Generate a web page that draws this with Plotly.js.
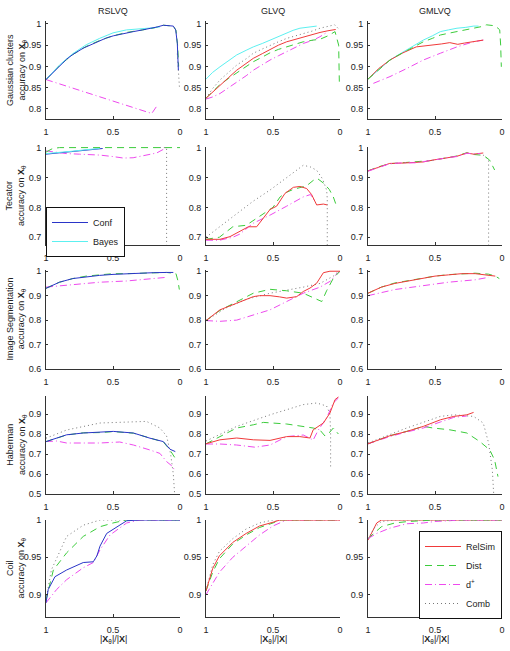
<!DOCTYPE html>
<html><head><meta charset="utf-8">
<script src="https://cdn.plot.ly/plotly-3.0.1.min.js"></script>
<style>body{margin:0;background:#fff}#c{width:510px;height:651px}</style>
</head><body><div id="c"></div>
<script>
// ---------- tick labels ----------
const xTickVals = [1, 0.5, 0];
const xTickText = ['1', '0.5', '0'];
const rowNames = ['Gaussian clusters', 'Tecator', 'Image Segmentation', 'Haberman', 'Coil'];
const colNames = ['RSLVQ', 'GLVQ', 'GMLVQ'];
const yTicks1 = [0.8, 0.85, 0.9, 0.95, 1];
const yTicks2 = [0.7, 0.8, 0.9, 1];
const yTicks3 = [0.6, 0.7, 0.8, 0.9, 1];
const yTicks4 = [0.5, 0.6, 0.7, 0.8, 0.9];
const yTicks5 = [0.9, 0.95, 1];

// ---------- Row 1: Gaussian clusters ----------
const gR_conf_x = [1,0.95,0.9,0.846,0.8,0.722,0.65,0.597,0.55,0.498,0.42,0.348,0.28,0.224,0.17,0.124,0.08,0.05,0.032,0.02,0.012];
const gR_conf_y = [0.869,0.885,0.902,0.917,0.928,0.943,0.953,0.961,0.967,0.972,0.978,0.982,0.986,0.989,0.993,0.997,0.996,0.995,0.986,0.954,0.891];
const gR_bayes_x = [1,0.9,0.8,0.7,0.6,0.5,0.4,0.3,0.2,0.15];
const gR_bayes_y = [0.869,0.903,0.930,0.951,0.966,0.979,0.986,0.988,0.991,0.993];
const gR_dist_x = [1,0.9,0.8,0.7,0.6,0.5,0.4,0.3,0.2,0.124,0.05,0.03,0.018,0.01];
const gR_dist_y = [0.869,0.902,0.928,0.947,0.961,0.972,0.980,0.985,0.990,0.997,0.995,0.985,0.95,0.90];
const gR_dplus_x = [1,0.211,0.174];
const gR_dplus_y = [0.869,0.789,0.806];
const gR_comb_x = [0.02,0.01,0.004];
const gR_comb_y = [0.93,0.88,0.85];

const gG_bayes_x = [1,0.95,0.896,0.83,0.771,0.7,0.647,0.58,0.522,0.46,0.398,0.35,0.299,0.24,0.174];
const gG_bayes_y = [0.870,0.886,0.899,0.914,0.927,0.938,0.946,0.954,0.962,0.970,0.978,0.985,0.990,0.993,0.995];
const gG_rel_x = [1,0.95,0.896,0.83,0.771,0.7,0.647,0.58,0.522,0.46,0.398,0.33,0.274,0.2,0.149,0.09,0.032];
const gG_rel_y = [0.825,0.840,0.856,0.874,0.891,0.906,0.919,0.930,0.940,0.950,0.958,0.964,0.970,0.975,0.980,0.984,0.987];
const gG_dist_x = [1,0.95,0.9,0.83,0.75,0.7,0.647,0.58,0.522,0.46,0.398,0.33,0.274,0.2,0.149,0.09,0.037,0.01,0.005];
const gG_dist_y = [0.825,0.840,0.856,0.872,0.890,0.900,0.911,0.922,0.932,0.940,0.946,0.952,0.958,0.962,0.964,0.972,0.982,0.95,0.864];
const gG_dplus_x = [1,0.95,0.896,0.83,0.771,0.7,0.647,0.58,0.522,0.46,0.398,0.33,0.274,0.2,0.149,0.09];
const gG_dplus_y = [0.823,0.828,0.836,0.850,0.864,0.878,0.891,0.904,0.915,0.925,0.935,0.945,0.954,0.962,0.970,0.982];
const gG_comb_x = [1,0.95,0.896,0.83,0.771,0.7,0.647,0.58,0.522,0.46,0.398,0.33,0.274,0.2,0.149,0.09,0.04,0.015];
const gG_comb_y = [0.825,0.848,0.868,0.887,0.903,0.918,0.931,0.941,0.950,0.958,0.966,0.972,0.978,0.984,0.990,0.995,0.998,0.990];

const gM_bayes_x = [1,0.92,0.836,0.77,0.711,0.65,0.587,0.52,0.46,0.4,0.336,0.27,0.212,0.175];
const gM_bayes_y = [0.870,0.893,0.915,0.928,0.939,0.951,0.962,0.972,0.982,0.986,0.990,0.992,0.995,0.995];
const gM_dist_x = [1,0.92,0.836,0.77,0.711,0.65,0.587,0.52,0.46,0.4,0.336,0.27,0.212,0.15,0.116,0.06,0.03,0.017,0.01,0.005];
const gM_dist_y = [0.870,0.893,0.915,0.927,0.937,0.948,0.958,0.966,0.974,0.978,0.982,0.986,0.990,0.994,0.998,0.996,0.990,0.986,0.950,0.899];
const gM_rel_x = [1,0.92,0.836,0.739,0.64,0.58,0.515,0.45,0.39,0.33,0.28,0.212,0.14];
const gM_rel_y = [0.870,0.895,0.915,0.932,0.946,0.948,0.950,0.953,0.956,0.952,0.955,0.958,0.962];
const gM_dplus_x = [0.96,0.836,0.711,0.587,0.46,0.336,0.212,0.14];
const gM_dplus_y = [0.860,0.876,0.895,0.915,0.931,0.946,0.958,0.962];

// ---------- Row 2: Tecator ----------
const tR_conf_x = [1,0.95,0.85,0.75,0.65,0.577];
const tR_conf_y = [0.978,0.980,0.985,0.990,0.994,0.997];
const tR_bayes_x = [1,0.9,0.8,0.7,0.6];
const tR_bayes_y = [0.980,0.983,0.988,0.993,0.997];
const tR_dist_x = [1,0.95,0.9,0.8,0.6,0.4,0.2,0.1,0];
const tR_dist_y = [0.985,0.997,1,1,1,1,1,1,1];
const tR_dplus_x = [1,0.85,0.75,0.6,0.5,0.423,0.35,0.299,0.22,0.174,0.1];
const tR_dplus_y = [0.989,0.980,0.978,0.975,0.970,0.965,0.966,0.971,0.978,0.982,1.0];
const tR_comb_x = [0.15,0.1,0.1];
const tR_comb_y = [1,1,0.6];

const tG_rel_x = [1,0.896,0.821,0.746,0.684,0.622,0.572,0.522,0.473,0.44,0.41,0.348,0.299,0.249,0.212,0.174,0.124,0.095];
const tG_rel_y = [0.693,0.693,0.702,0.719,0.735,0.735,0.763,0.793,0.804,0.825,0.847,0.867,0.870,0.863,0.843,0.808,0.811,0.808];
const tG_dist_x = [1,0.9,0.8,0.7,0.6,0.5,0.447,0.4,0.35,0.3,0.25,0.2,0.17,0.12,0.08,0.05,0.02];
const tG_dist_y = [0.693,0.700,0.735,0.740,0.770,0.800,0.835,0.850,0.860,0.865,0.872,0.890,0.897,0.880,0.860,0.835,0.797];
const tG_dplus_x = [1,0.9,0.8,0.75,0.647,0.522,0.398,0.274,0.22,0.18];
const tG_dplus_y = [0.690,0.690,0.700,0.710,0.747,0.774,0.804,0.835,0.843,0.815];
const tG_comb_x = [1,0.9,0.771,0.65,0.522,0.45,0.398,0.33,0.274,0.22,0.174,0.13,0.1,0.095,0.095];
const tG_comb_y = [0.700,0.735,0.780,0.820,0.858,0.882,0.902,0.925,0.941,0.935,0.924,0.895,0.858,0.830,0.600];

const tM_rel_x = [1,0.92,0.838,0.75,0.65,0.587,0.52,0.46,0.4,0.336,0.262,0.212,0.14];
const tM_rel_y = [0.922,0.935,0.947,0.948,0.950,0.952,0.958,0.963,0.966,0.971,0.982,0.978,0.982];
const tM_dist_x = [1,0.92,0.838,0.75,0.65,0.587,0.52,0.46,0.4,0.336,0.262,0.212,0.16,0.12,0.092,0.075,0.055];
const tM_dist_y = [0.922,0.936,0.946,0.949,0.951,0.953,0.957,0.962,0.967,0.972,0.983,0.977,0.975,0.968,0.958,0.940,0.925];
const tM_dplus_x = [1,0.92,0.838,0.75,0.65,0.587,0.52,0.46,0.4,0.336,0.262,0.212,0.16];
const tM_dplus_y = [0.921,0.934,0.946,0.949,0.949,0.953,0.957,0.962,0.967,0.970,0.981,0.979,0.980];
const tM_comb_x = [0.14,0.1,0.1];
const tM_comb_y = [0.975,0.960,0.600];

// ---------- Row 3: Image Segmentation ----------
const iR_conf_x = [1,0.9,0.8,0.7,0.6,0.5,0.4,0.3,0.2,0.1,0.05];
const iR_conf_y = [0.930,0.955,0.970,0.978,0.983,0.987,0.990,0.992,0.994,0.995,0.995];
const iR_dist_x = [1,0.9,0.8,0.7,0.6,0.5,0.4,0.3,0.2,0.1,0.03,0.015,0.005];
const iR_dist_y = [0.930,0.955,0.970,0.980,0.985,0.990,0.990,0.992,0.995,0.995,0.990,0.960,0.925];
const iR_dplus_x = [1,0.8,0.6,0.4,0.2,0.1];
const iR_dplus_y = [0.935,0.945,0.955,0.960,0.970,0.975];

const iG_rel_x = [1,0.896,0.771,0.647,0.6,0.522,0.45,0.398,0.323,0.274,0.224,0.174,0.124,0.075,0];
const iG_rel_y = [0.798,0.842,0.869,0.896,0.900,0.900,0.895,0.890,0.896,0.917,0.931,0.951,0.994,1.0,1.0];
const iG_dist_x = [1,0.896,0.771,0.647,0.522,0.398,0.274,0.2,0.136,0.1,0.05,0];
const iG_dist_y = [0.798,0.840,0.875,0.910,0.926,0.920,0.910,0.890,0.876,0.920,0.971,1.0];
const iG_dplus_x = [1,0.896,0.771,0.647,0.522,0.398,0.274,0.149,0.07,0.02,0];
const iG_dplus_y = [0.798,0.795,0.800,0.822,0.842,0.876,0.910,0.935,0.960,0.992,1.0];
const iG_comb_x = [1,0.85,0.7,0.522,0.274,0.149,0.05,0.01];
const iG_comb_y = [0.798,0.850,0.885,0.910,0.935,0.950,0.980,1.0];

const iM_rel_x = [1,0.9,0.8,0.7,0.6,0.5,0.4,0.3,0.2,0.1,0.05];
const iM_rel_y = [0.910,0.935,0.950,0.960,0.970,0.980,0.985,0.990,0.990,0.985,0.980];
const iM_dist_x = [1,0.9,0.8,0.7,0.6,0.5,0.4,0.3,0.2,0.1,0.05,0.02];
const iM_dist_y = [0.910,0.935,0.952,0.962,0.972,0.980,0.986,0.990,0.992,0.988,0.980,0.970];
const iM_dplus_x = [1,0.8,0.6,0.4,0.2,0.1];
const iM_dplus_y = [0.900,0.925,0.940,0.955,0.965,0.975];

// ---------- Row 4: Haberman ----------
const hR_conf_x = [1,0.846,0.722,0.597,0.498,0.348,0.224,0.124,0.075,0.035];
const hR_conf_y = [0.762,0.796,0.805,0.808,0.813,0.805,0.779,0.762,0.724,0.712];
const hR_dist_x = [1,0.846,0.722,0.597,0.498,0.348,0.224,0.124,0.075,0.035];
const hR_dist_y = [0.762,0.795,0.806,0.807,0.812,0.804,0.780,0.760,0.720,0.678];
const hR_dplus_x = [1,0.92,0.846,0.6,0.45,0.348,0.224,0.15,0.1,0.06,0.04];
const hR_dplus_y = [0.762,0.765,0.755,0.755,0.760,0.745,0.720,0.703,0.662,0.640,0.620];
const hR_comb_x = [1,0.846,0.597,0.348,0.25,0.15,0.1,0.07,0.05,0.04];
const hR_comb_y = [0.779,0.820,0.855,0.863,0.863,0.830,0.790,0.700,0.600,0.500];

const hG_rel_x = [1,0.896,0.771,0.647,0.522,0.398,0.3,0.224,0.2,0.124,0.075,0.037,0.012];
const hG_rel_y = [0.751,0.771,0.780,0.771,0.768,0.787,0.787,0.780,0.821,0.855,0.905,0.972,0.985];
const hG_dist_x = [1,0.771,0.647,0.572,0.398,0.2,0.15,0.112,0.075,0.05,0.012];
const hG_dist_y = [0.751,0.830,0.846,0.858,0.850,0.830,0.820,0.790,0.810,0.830,0.800];
const hG_dplus_x = [1,0.896,0.771,0.634,0.522,0.398,0.274,0.2,0.162,0.1,0.05,0.012];
const hG_dplus_y = [0.750,0.750,0.745,0.734,0.745,0.787,0.795,0.770,0.820,0.880,0.955,0.980];
const hG_comb_x = [1,0.771,0.522,0.274,0.174,0.1,0.075,0.07,0.07];
const hG_comb_y = [0.765,0.838,0.896,0.947,0.955,0.940,0.900,0.800,0.637];

const hM_rel_x = [1,0.838,0.711,0.587,0.46,0.36,0.262,0.212];
const hM_rel_y = [0.751,0.791,0.813,0.838,0.871,0.888,0.896,0.908];
const hM_dplus_x = [1,0.838,0.711,0.587,0.46,0.36,0.262];
const hM_dplus_y = [0.751,0.787,0.810,0.830,0.860,0.883,0.890];
const hM_dist_x = [1,0.838,0.711,0.587,0.515,0.39,0.262,0.165,0.091,0.055,0.03];
const hM_dist_y = [0.751,0.791,0.813,0.838,0.830,0.821,0.805,0.762,0.720,0.670,0.587];
const hM_comb_x = [1,0.711,0.46,0.36,0.212,0.14,0.1,0.072,0.062];
const hM_comb_y = [0.755,0.830,0.888,0.896,0.888,0.855,0.755,0.620,0.500];

// ---------- Row 5: Coil ----------
const cR_conf_x = [1,0.983,0.933,0.846,0.722,0.647,0.62,0.597,0.547,0.473,0.398,0.3,0];
const cR_conf_y = [0.889,0.907,0.924,0.933,0.943,0.944,0.952,0.965,0.982,0.991,0.999,1,1];
const cR_dplus_x = [1,0.92,0.846,0.722,0.647,0.597,0.522,0.398,0.3,0];
const cR_dplus_y = [0.889,0.907,0.920,0.936,0.943,0.960,0.980,0.996,1,1];
const cR_dist_x = [1,0.945,0.846,0.722,0.597,0.5,0.4,0];
const cR_dist_y = [0.893,0.933,0.956,0.978,0.991,0.996,1,1];
const cR_comb_x = [1,0.96,0.846,0.722,0.597,0.5,0];
const cR_comb_y = [0.893,0.933,0.978,0.993,1,1,1];

const cG_rel_x = [1,0.95,0.9,0.8,0.7,0.6,0.5,0.45,0];
const cG_rel_y = [0.905,0.935,0.952,0.970,0.982,0.992,0.997,1,1];
const cG_dist_x = [1,0.95,0.9,0.8,0.7,0.6,0.5,0.45,0];
const cG_dist_y = [0.905,0.930,0.948,0.968,0.980,0.990,0.996,1,1];
const cG_dplus_x = [1,0.9,0.8,0.7,0.6,0.5,0.4,0];
const cG_dplus_y = [0.900,0.930,0.950,0.965,0.980,0.992,1,1];
const cG_comb_x = [1,0.95,0.9,0.8,0.7,0.6,0.5,0];
const cG_comb_y = [0.905,0.940,0.958,0.975,0.988,0.996,1,1];

const cM_rel_x = [1,0.96,0.935,0.9,0.8,0.5,0];
const cM_rel_y = [0.973,0.987,0.996,1,1,1,1];
const cM_dist_x = [1,0.9,0.8,0.7,0.5,0.3,0];
const cM_dist_y = [0.975,0.991,0.996,0.998,1,1,1];
const cM_dplus_x = [1,0.935,0.838,0.711,0.587,0.5,0.3,0];
const cM_dplus_y = [0.975,0.982,0.989,0.995,0.996,0.998,1,1];
const cM_comb_x = [1,0.95,0.9,0.8,0.5,0];
const cM_comb_y = [0.975,0.99,0.998,1,1,1];

// ---------- styles / layout geometry ----------
const W = 510, H = 651;
const STY = {
  conf:  {color:'#2a35c8', dash:'solid'},
  bayes: {color:'#5cf0f0', dash:'solid'},
  rel:   {color:'#f03a3a', dash:'solid'},
  dist:  {color:'#3ccc3c', dash:'7px,5px'},
  dplus: {color:'#ee4aee', dash:'7px,3px,1px,3px'},
  comb:  {color:'#777777', dash:'1px,3px'}
};
const colPx = [[46,180],[206,340],[368,502]];
const rowPx = [[21,119],[147,245],[270,369],[396,494],[520,617]];
const rowRanges = [[0.776,1.007],[0.674,1.002],[0.6,1.005],[0.5,0.99],[0.87,1.0]];
const rowTicks = [yTicks1,yTicks2,yTicks3,yTicks4,yTicks5];

const traces = [];
function add(r, c, x, y, key, name, legend) {
  const n = r*3 + c + 1;
  const s = STY[key];
  traces.push({
    x: x, y: y, type:'scatter', mode:'lines', name: name,
    xaxis: 'x' + (n === 1 ? '' : n), yaxis: 'y' + (n === 1 ? '' : n),
    line: {color: s.color, width: 1, dash: s.dash},
    showlegend: !!legend, legend: legend || 'legend', hoverinfo:'skip'
  });
}

// row 1
add(0,0,gR_dplus_x,gR_dplus_y,'dplus');
add(0,0,gR_comb_x,gR_comb_y,'comb');
add(0,0,gR_dist_x,gR_dist_y,'dist');
add(0,0,gR_bayes_x,gR_bayes_y,'bayes');
add(0,0,gR_conf_x,gR_conf_y,'conf');
add(0,1,gG_bayes_x,gG_bayes_y,'bayes');
add(0,1,gG_comb_x,gG_comb_y,'comb');
add(0,1,gG_dplus_x,gG_dplus_y,'dplus');
add(0,1,gG_dist_x,gG_dist_y,'dist');
add(0,1,gG_rel_x,gG_rel_y,'rel');
add(0,2,gM_bayes_x,gM_bayes_y,'bayes');
add(0,2,gM_dplus_x,gM_dplus_y,'dplus');
add(0,2,gM_rel_x,gM_rel_y,'rel');
add(0,2,gM_dist_x,gM_dist_y,'dist');
// row 2
add(1,0,tR_comb_x,tR_comb_y,'comb');
add(1,0,tR_dplus_x,tR_dplus_y,'dplus');
add(1,0,tR_dist_x,tR_dist_y,'dist');
add(1,0,tR_conf_x,tR_conf_y,'conf','Conf','legend');
add(1,0,tR_bayes_x,tR_bayes_y,'bayes','Bayes','legend');
add(1,1,tG_comb_x,tG_comb_y,'comb');
add(1,1,tG_dplus_x,tG_dplus_y,'dplus');
add(1,1,tG_dist_x,tG_dist_y,'dist');
add(1,1,tG_rel_x,tG_rel_y,'rel');
add(1,2,tM_comb_x,tM_comb_y,'comb');
add(1,2,tM_dist_x,tM_dist_y,'dist');
add(1,2,tM_rel_x,tM_rel_y,'rel');
add(1,2,tM_dplus_x,tM_dplus_y,'dplus');
// row 3
add(2,0,iR_dplus_x,iR_dplus_y,'dplus');
add(2,0,iR_dist_x,iR_dist_y,'dist');
add(2,0,iR_conf_x,iR_conf_y,'conf');
add(2,1,iG_comb_x,iG_comb_y,'comb');
add(2,1,iG_dplus_x,iG_dplus_y,'dplus');
add(2,1,iG_dist_x,iG_dist_y,'dist');
add(2,1,iG_rel_x,iG_rel_y,'rel');
add(2,2,iM_dplus_x,iM_dplus_y,'dplus');
add(2,2,iM_dist_x,iM_dist_y,'dist');
add(2,2,iM_rel_x,iM_rel_y,'rel');
// row 4
add(3,0,hR_comb_x,hR_comb_y,'comb');
add(3,0,hR_dplus_x,hR_dplus_y,'dplus');
add(3,0,hR_dist_x,hR_dist_y,'dist');
add(3,0,hR_conf_x,hR_conf_y,'conf');
add(3,1,hG_comb_x,hG_comb_y,'comb');
add(3,1,hG_dist_x,hG_dist_y,'dist');
add(3,1,hG_dplus_x,hG_dplus_y,'dplus');
add(3,1,hG_rel_x,hG_rel_y,'rel');
add(3,2,hM_comb_x,hM_comb_y,'comb');
add(3,2,hM_dist_x,hM_dist_y,'dist');
add(3,2,hM_dplus_x,hM_dplus_y,'dplus');
add(3,2,hM_rel_x,hM_rel_y,'rel');
// row 5
add(4,0,cR_comb_x,cR_comb_y,'comb');
add(4,0,cR_dist_x,cR_dist_y,'dist');
add(4,0,cR_dplus_x,cR_dplus_y,'dplus');
add(4,0,cR_conf_x,cR_conf_y,'conf');
add(4,1,cG_comb_x,cG_comb_y,'comb');
add(4,1,cG_dplus_x,cG_dplus_y,'dplus');
add(4,1,cG_dist_x,cG_dist_y,'dist');
add(4,1,cG_rel_x,cG_rel_y,'rel');
add(4,2,cM_rel_x,cM_rel_y,'rel','RelSim','legend2');
add(4,2,cM_dist_x,cM_dist_y,'dist','Dist','legend2');
add(4,2,cM_dplus_x,cM_dplus_y,'dplus','d<sup>+</sup>','legend2');
add(4,2,cM_comb_x,cM_comb_y,'comb','Comb','legend2');

const FONT = {family:'Liberation Sans, Arial, Helvetica, sans-serif', size:9, color:'#222'};
const layout = {
  width: W, height: H, margin:{l:0,r:0,t:0,b:0},
  paper_bgcolor:'#fff', plot_bgcolor:'rgba(0,0,0,0)',
  font: FONT, annotations: [],
  legend: {x:46/W, y:1-207/H, xanchor:'left', yanchor:'top', bgcolor:'#fff',
           bordercolor:'#111', borderwidth:1, font:FONT, itemwidth:36, tracegroupgap:0},
  legend2: {x:502/W, y:1-619/H, xanchor:'right', yanchor:'bottom', bgcolor:'#fff',
           bordercolor:'#111', borderwidth:1, font:FONT, itemwidth:36, tracegroupgap:0}
};
for (let r = 0; r < 5; r++) {
  for (let c = 0; c < 3; c++) {
    const n = r*3 + c + 1;
    const sfx = n === 1 ? '' : n;
    layout['xaxis' + sfx] = {
      domain:[colPx[c][0]/W, colPx[c][1]/W], range:[1,0], anchor:'y'+sfx,
      showline:true, linecolor:'#333', linewidth:1, mirror:false,
      showgrid:false, zeroline:false, ticks:'inside', ticklen:3, tickcolor:'#333',
      tickvals:xTickVals, ticktext:xTickText, tickfont:FONT, ticklabelstandoff:4
    };
    layout['yaxis' + sfx] = {
      domain:[1-rowPx[r][1]/H, 1-rowPx[r][0]/H], range:rowRanges[r], anchor:'x'+sfx,
      showline:true, linecolor:'#333', linewidth:1, mirror:false,
      showgrid:false, zeroline:false, ticks:'inside', ticklen:2, tickcolor:'#333',
      tickvals:rowTicks[r], ticktext:rowTicks[r].map(String), tickfont:FONT, ticklabelstandoff:2
    };
  }
}
colNames.forEach((t, c) => {
  layout.annotations.push({text:t, x:(colPx[c][0]+colPx[c][1])/2/W, y:1-11/H,
    xref:'paper', yref:'paper', showarrow:false, font:FONT, xanchor:'center', yanchor:'middle'});
  layout.annotations.push({text:'|<b>X</b><sub>θ</sub>|/|<b>X</b>|', x:(colPx[c][0]+colPx[c][1])/2/W, y:1-639/H,
    xref:'paper', yref:'paper', showarrow:false, font:FONT, xanchor:'center', yanchor:'middle'});
});
rowNames.forEach((t, r) => {
  layout.annotations.push({text:t + '<br>accuracy on <b>X</b><sub>θ</sub>', textangle:-90,
    x:16/W, y:1-(rowPx[r][0]+rowPx[r][1])/2/H, xref:'paper', yref:'paper', showarrow:false,
    font:FONT, xanchor:'center', yanchor:'middle'});
});

Plotly.newPlot('c', traces, layout, {staticPlot:true});
</script>
</body></html>
